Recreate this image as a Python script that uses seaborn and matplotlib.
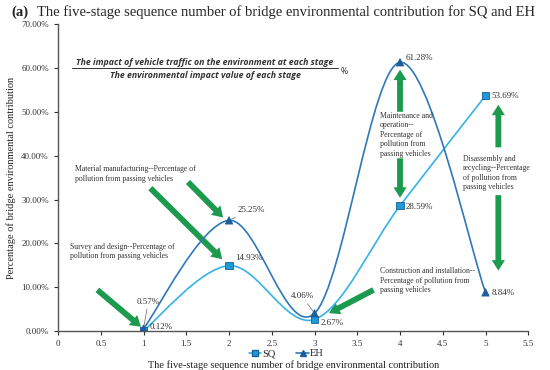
import numpy as np
import pandas as pd
import matplotlib
matplotlib.use("Agg")
import matplotlib.pyplot as plt
from matplotlib.path import Path
from matplotlib.patches import PathPatch
from matplotlib.lines import Line2D
import seaborn as sns

stages = [1, 2, 3, 4, 5]
sq = [0.12, 14.93, 2.67, 28.59, 53.69]
eh = [0.57, 25.25, 4.06, 61.28, 8.84]
x_ticks = [0, 0.5, 1, 1.5, 2, 2.5, 3, 3.5, 4, 4.5, 5, 5.5]
y_ticks = [0, 10, 20, 30, 40, 50, 60, 70]

SQ_LINE = "#35b3e6"
SQ_MARK = "#1e9bd7"
EH_LINE = "#2f78b8"
EH_MARK = "#1f5d9c"
GREEN = "#1c9a4e"
SERIF = ["Liberation Serif", "DejaVu Serif"]

sns.set_style("ticks")
plt.rcParams["font.family"] = SERIF


def smooth_path(xs, ys):
    # excel-like smoothed line: cubic bezier, catmull-rom control points
    p = np.column_stack([xs, ys]).astype(float)
    n = len(p)
    verts = [p[0]]
    codes = [Path.MOVETO]
    for i in range(n - 1):
        prev = p[i - 1] if i > 0 else p[i]
        nxt = p[i + 2] if i + 2 < n else p[i + 1]
        c1 = p[i] + (p[i + 1] - prev) / 6
        c2 = p[i + 1] - (nxt - p[i]) / 6
        verts += [c1, c2, p[i + 1]]
        codes += [Path.CURVE4] * 3
    return Path(verts, codes)


fig = plt.figure(figsize=(5.5, 3.7), dpi=100)
ax = fig.add_axes([0.1055, 0.105, 0.855, 0.83])

ax.add_patch(PathPatch(smooth_path(stages, sq), fill=False, ec=SQ_LINE, lw=1.2, zorder=2))
ax.add_patch(PathPatch(smooth_path(stages, eh), fill=False, ec=EH_LINE, lw=1.2, zorder=2))

df = pd.DataFrame({"stage": stages * 2, "value": sq + eh,
                   "series": ["SQ"] * 5 + ["EH"] * 5})
sns.scatterplot(data=df, x="stage", y="value", hue="series", style="series",
                markers={"SQ": "s", "EH": "^"},
                palette={"SQ": SQ_MARK, "EH": EH_MARK},
                s=28, edgecolor="#1a5f96", linewidth=0.6, legend=False, ax=ax, zorder=3)

ax.set_xlim(0, 5.5)
ax.set_ylim(0, 70)
ax.set_xticks(x_ticks)
ax.set_xticklabels([f"{t:g}" for t in x_ticks])
ax.set_yticks(y_ticks)
ax.set_yticklabels([f"{t:.2f}%" for t in y_ticks])
ax.tick_params(labelsize=6.5, length=3, width=0.8, colors="#333333", labelcolor="#333333")
sns.despine(ax=ax)
for s in ["left", "bottom"]:
    ax.spines[s].set_color("#555555")
    ax.spines[s].set_linewidth(1.0)

ax.set_xlabel("The five-stage sequence number of bridge environmental contribution",
              fontsize=7.5, labelpad=9, color="#222222")
ax.set_ylabel("Percentage of bridge environmental contribution",
              fontsize=7.5, labelpad=4, color="#222222")

fig.text(0.02, 0.968, "(a)", fontsize=10.5, va="center", ha="left",
         weight="bold", family=SERIF)
fig.text(0.067, 0.968, "The five-stage sequence number of bridge environmental contribution for SQ and EH",
         fontsize=10.5, va="center", ha="left", family=SERIF)

# data labels
lab = dict(fontsize=6.5, color="#333333", va="center")
lead = dict(arrowstyle="-", color="#666666", lw=0.5, shrinkA=0, shrinkB=2)
ax.annotate("0.57%", xy=(1, eh[0]), xytext=(0.92, 6.7), ha="left", arrowprops=lead, **lab)
ax.annotate("0.12%", xy=(1, sq[0]), xytext=(1.07, 0.9), ha="left", **lab)
ax.annotate("25.25%", xy=(2, eh[1]), xytext=(2.1, 27.6), ha="left", arrowprops=lead, **lab)
ax.annotate("14.93%", xy=(2, sq[1]), xytext=(2.07, 16.7), ha="left", **lab)
ax.annotate("4.06%", xy=(3, eh[2]), xytext=(2.72, 7.9), ha="left", arrowprops=lead, **lab)
ax.annotate("2.67%", xy=(3, sq[2]), xytext=(3.07, 1.9), ha="left", **lab)
ax.annotate("61.28%", xy=(4, eh[3]), xytext=(4.07, 62.2), ha="left", **lab)
ax.annotate("28.59%", xy=(4, sq[3]), xytext=(4.07, 28.4), ha="left", **lab)
ax.annotate("53.69%", xy=(5, sq[4]), xytext=(5.07, 53.5), ha="left", **lab)
ax.annotate("8.84%", xy=(5, eh[4]), xytext=(5.07, 8.6), ha="left", **lab)

# green arrows and stage notes
arr = dict(arrowstyle="simple,head_length=0.75,head_width=0.95,tail_width=0.42",
           fc=GREEN, ec="none", shrinkA=0, shrinkB=0, mutation_scale=10)
arrows = [((0.46, 9.4), (0.97, 1.0)),
          ((1.08, 32.6), (1.92, 16.4)),
          ((1.52, 34.0), (1.93, 25.9)),
          ((3.69, 9.4), (3.17, 4.1)),
          ((4.0, 50.0), (4.0, 59.6)),
          ((4.0, 39.4), (4.0, 30.4)),
          ((5.15, 41.9), (5.15, 51.6)),
          ((5.15, 31.0), (5.15, 13.8))]
for tail, head in arrows:
    ax.annotate("", xy=head, xytext=tail, arrowprops=arr, zorder=1)

note = dict(fontsize=5.6, color="#333333", va="top", ha="left", linespacing=1.25)
ax.text(0.14, 20.2, "Survey and design--Percentage of\npollution from passing vehicles", **note)
ax.text(0.2, 37.8, "Material manufacturing--Percentage of\npollution from passing vehicles", **note)
ax.text(3.76, 14.6, "Construction and installation--\nPercentage of pollution from\npassing vehicles", **note)
ax.text(3.76, 50.0, "Maintenance and\noperation--\nPercentage of\npollution from\npassing vehicles", **note)
ax.text(4.74, 40.2, "Disassembly and\nrecycling--Percentage\nof pollution from\npassing vehicles", **note)

# formula
frac = dict(fontsize=6.3, style="italic", weight="bold", color="#333333",
            family=["Open Sans", "DejaVu Sans"], ha="center")
ax.text(1.72, 60.3, "The impact of vehicle traffic on the environment at each stage",
        va="bottom", **frac)
ax.text(1.72, 59.3, "The environmental impact value of each stage", va="top", **frac)
ax.plot([0.16, 3.28], [59.9, 59.9], color="#333333", lw=0.7)
ax.text(3.3, 59.2, "%", fontsize=6.3, color="#333333", va="center",
        family=["Open Sans", "DejaVu Sans"])

handles = [Line2D([], [], color=SQ_LINE, marker="s", markerfacecolor=SQ_MARK,
                  markeredgecolor="#1a5f96", markersize=5, lw=1.2),
           Line2D([], [], color=EH_LINE, marker="^", markerfacecolor=EH_MARK,
                  markeredgecolor="#1a5f96", markersize=5, lw=1.2)]
ax.legend(handles, ["SQ", "EH"], loc="upper center", bbox_to_anchor=(0.485, -0.045),
          ncol=2, frameon=False, fontsize=7.5, handlelength=1.2, handletextpad=0.1,
          columnspacing=2.0, borderaxespad=0)

fig.savefig("out.png", dpi=100)
